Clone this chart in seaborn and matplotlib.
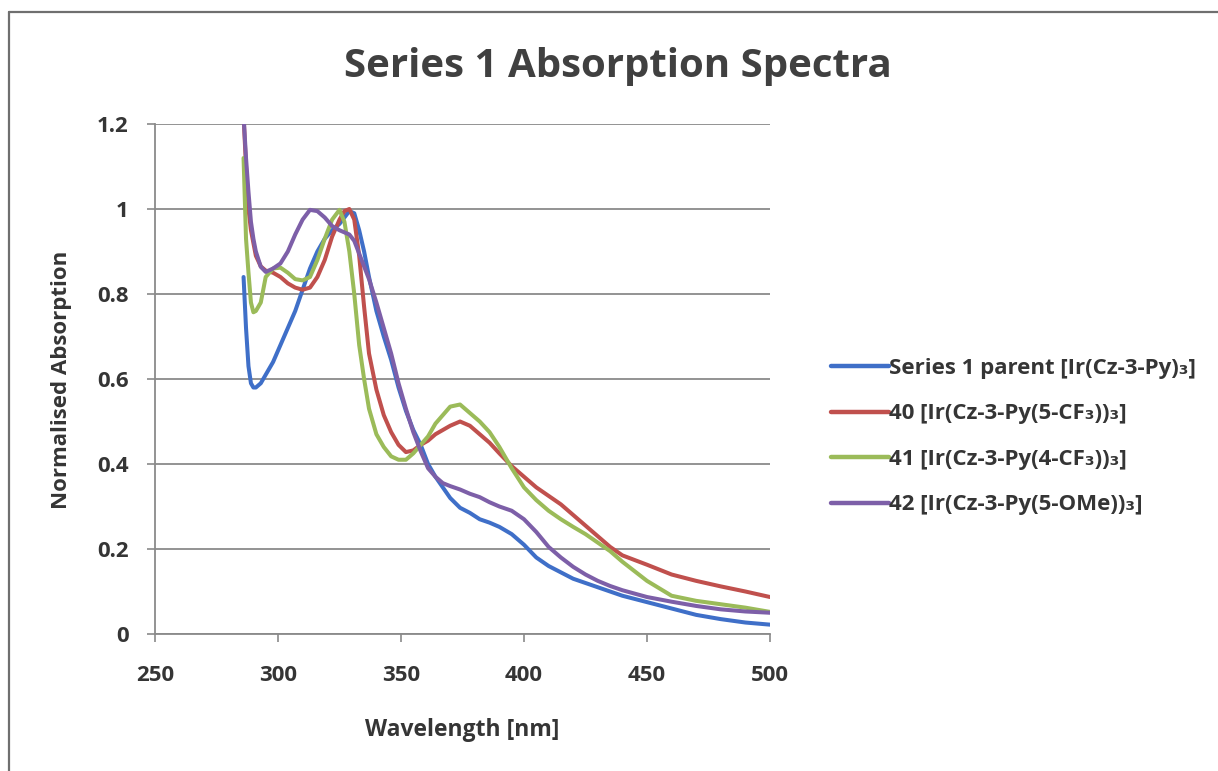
import numpy as np
import pandas as pd
import matplotlib
matplotlib.use("Agg")
import matplotlib.pyplot as plt
from matplotlib.lines import Line2D
import seaborn as sns

# Wavelength grid (nm) shared by all four spectra
wavelength = [286, 287, 288, 289, 290, 291, 293, 295, 298, 301, 304, 307, 310, 313,
              316, 319, 322, 325, 327, 329, 331, 333, 335, 337, 340, 343, 346, 349,
              352, 355, 358, 361, 364, 367, 370, 374, 378, 382, 386, 390, 395, 400,
              405, 410, 415, 420, 425, 430, 435, 440, 450, 460, 470, 480, 490, 500]

parent = [0.84, 0.72, 0.63, 0.59, 0.58, 0.58, 0.59, 0.61, 0.64, 0.68, 0.72, 0.76, 0.81, 0.86,
          0.90, 0.93, 0.95, 0.965, 0.98, 0.995, 0.99, 0.95, 0.90, 0.84, 0.76, 0.70, 0.645, 0.58,
          0.525, 0.48, 0.445, 0.40, 0.37, 0.345, 0.32, 0.297, 0.285, 0.27, 0.262, 0.252, 0.235, 0.21,
          0.18, 0.16, 0.145, 0.13, 0.12, 0.11, 0.10, 0.09, 0.075, 0.06, 0.045, 0.035, 0.027, 0.022]

cf3_5 = [1.22, 1.10, 1.00, 0.95, 0.92, 0.89, 0.865, 0.855, 0.85, 0.84, 0.825, 0.815, 0.81, 0.815,
         0.84, 0.88, 0.935, 0.975, 0.995, 1.0, 0.975, 0.89, 0.77, 0.66, 0.575, 0.515, 0.475, 0.445,
         0.428, 0.432, 0.445, 0.455, 0.47, 0.48, 0.49, 0.50, 0.49, 0.47, 0.45, 0.425, 0.395, 0.37,
         0.345, 0.325, 0.305, 0.28, 0.255, 0.23, 0.205, 0.185, 0.163, 0.14, 0.125, 0.112, 0.10, 0.087]

cf3_4 = [1.12, 0.93, 0.85, 0.78, 0.757, 0.76, 0.78, 0.84, 0.86, 0.862, 0.85, 0.835, 0.832, 0.84,
         0.88, 0.93, 0.975, 0.998, 0.97, 0.90, 0.80, 0.68, 0.60, 0.53, 0.47, 0.44, 0.418, 0.41,
         0.41, 0.425, 0.445, 0.465, 0.495, 0.515, 0.535, 0.54, 0.52, 0.50, 0.475, 0.44, 0.39, 0.345,
         0.315, 0.29, 0.27, 0.252, 0.235, 0.215, 0.195, 0.17, 0.125, 0.09, 0.078, 0.07, 0.062, 0.052]

ome_5 = [1.22, 1.12, 1.04, 0.97, 0.93, 0.90, 0.864, 0.852, 0.86, 0.872, 0.90, 0.94, 0.975, 0.998,
         0.995, 0.98, 0.96, 0.95, 0.945, 0.94, 0.925, 0.895, 0.865, 0.835, 0.78, 0.72, 0.66, 0.59,
         0.53, 0.475, 0.43, 0.39, 0.37, 0.355, 0.348, 0.34, 0.33, 0.322, 0.31, 0.30, 0.29, 0.27,
         0.24, 0.205, 0.18, 0.158, 0.14, 0.125, 0.113, 0.103, 0.087, 0.076, 0.066, 0.058, 0.053, 0.05]

series_names = ["Series 1 parent [Ir(Cz-3-Py)₃]",
                "40 [Ir(Cz-3-Py(5-CF₃))₃]",
                "41 [Ir(Cz-3-Py(4-CF₃))₃]",
                "42 [Ir(Cz-3-Py(5-OMe))₃]"]
series_values = [parent, cf3_5, cf3_4, ome_5]
colors = ["#3F6FC8", "#C0504D", "#9BBB59", "#7D5FA8"]

x_ticks = [250, 300, 350, 400, 450, 500]
y_ticks = [0, 0.2, 0.4, 0.6, 0.8, 1.0, 1.2]
y_tick_labels = ["0", "0.2", "0.4", "0.6", "0.8", "1", "1.2"]

frames = [pd.DataFrame({"Wavelength": wavelength, "Absorption": vals, "Compound": name})
          for name, vals in zip(series_names, series_values)]
df = pd.concat(frames, ignore_index=True)

sns.set_theme(style="white")
plt.rcParams["font.family"] = ["Open Sans", "DejaVu Sans"]
plt.rcParams["font.weight"] = "bold"

text_col = "#353535"
grid_col = "#8a8a8a"

fig = plt.figure(figsize=(12.18, 7.71), dpi=100)
ax = fig.add_axes([155 / 1218, 1 - 634 / 771, (770 - 155) / 1218, (634 - 124) / 771])

sns.lineplot(data=df, x="Wavelength", y="Absorption", hue="Compound",
             palette=dict(zip(series_names, colors)), sort=False,
             linewidth=2.9, ax=ax, legend=False)

ax.set_xlim(250, 500)
ax.set_ylim(0, 1.2)
ax.set_xticks(x_ticks)
ax.set_yticks(y_ticks)
ax.set_yticklabels(y_tick_labels)
ax.yaxis.grid(True, color=grid_col, linewidth=1.3)
ax.xaxis.grid(False)
ax.set_axisbelow(True)
for side in ["top", "right"]:
    ax.spines[side].set_visible(False)
for side in ["left", "bottom"]:
    ax.spines[side].set_color(grid_col)
    ax.spines[side].set_linewidth(1.3)
ax.tick_params(axis="x", direction="out", length=6, width=1.2, color=grid_col,
               pad=16, labelsize=16, labelcolor=text_col, bottom=True)
ax.tick_params(axis="y", direction="out", length=6, width=1.2, color=grid_col,
               pad=13, labelsize=16, labelcolor=text_col, left=True)
for lab in ax.get_xticklabels() + ax.get_yticklabels():
    lab.set_fontweight("bold")

ax.set_xlabel("")
ax.set_ylabel("")
fig.text(462 / 1218, 1 - 730 / 771, "Wavelength [nm]", ha="center", va="center",
         fontsize=16.5, fontweight="bold", color=text_col)
fig.text(62 / 1218, 1 - 380 / 771, "Normalised Absorption", ha="center", va="center",
         rotation=90, fontsize=16, fontweight="bold", color=text_col)
fig.text(618 / 1218, 1 - 66 / 771, "Series 1 Absorption Spectra", ha="center", va="center",
         fontsize=29, fontweight="bold", color="#404040")

handles = [Line2D([0], [0], color=c, linewidth=3.2) for c in colors]
leg = fig.legend(handles, series_names, loc="upper left",
                 bbox_to_anchor=(811 / 1218, 1 - 338 / 771), frameon=False,
                 handlelength=2.6, handletextpad=0.0, labelspacing=1.1,
                 prop={"size": 16, "weight": "bold"})
for t in leg.get_texts():
    t.set_color(text_col)

# Chart-area border along the left and top edges
fig.add_artist(Line2D([9 / 1218, 9 / 1218], [0, 1 - 12 / 771], transform=fig.transFigure,
                      color="#6f6f6f", linewidth=1.6))
fig.add_artist(Line2D([9 / 1218, 1], [1 - 12 / 771, 1 - 12 / 771], transform=fig.transFigure,
                      color="#6f6f6f", linewidth=1.6))

fig.savefig("out.png", dpi=100, facecolor="white")
